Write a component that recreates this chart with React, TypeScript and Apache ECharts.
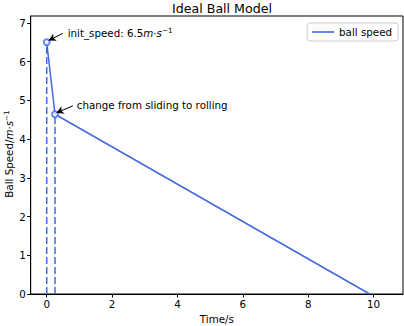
import React, { useEffect, useRef } from "react";
import * as echarts from "echarts";

const speedX = [0, 0.254, 9.88];
const speedY = [6.5, 4.643, 0];
const xTicks = [0, 2, 4, 6, 8, 10];
const yTicks = [0, 1, 2, 3, 4, 5, 6, 7];
const seriesName = "ball speed";
const yAxisTitle = "Ball Speed/{i|m}·{i|s}{sup|−1}";
const annotations = [
  { text: "init_speed: 6.5{i|m}·{i|s}{sup|−1}", at: [0.64, 6.74], tail: [0.49, 6.73], head: [0.06, 6.55] },
  { text: "change from sliding to rolling", at: [0.92, 4.87], tail: [0.8, 4.86], head: [0.3, 4.68] },
];

const COLOR = "#4169E1";
const FONT = "DejaVu Sans";
const FS = 10.3;

export default function App() {
  const ref = useRef<HTMLDivElement>(null);
  useEffect(() => {
    if (!ref.current) return;
    const chart = echarts.init(ref.current, undefined, { renderer: "svg" });
    const rich = {
      i: { fontStyle: "italic", fontFamily: FONT, fontSize: FS, color: "#000" },
      sup: { fontSize: 7.2, fontFamily: FONT, color: "#000", verticalAlign: "top", padding: [0, 0, 6, 0] },
    };
    chart.setOption({
      animation: false,
      color: [COLOR],
      textStyle: { fontFamily: FONT },
      title: {
        text: "Ideal Ball Model",
        left: 217,
        textAlign: "center",
        top: -3,
        textStyle: { fontFamily: FONT, fontSize: 12.6, fontWeight: "normal", color: "#000" },
      },
      legend: {
        data: [{ name: seriesName, icon: "rect" }],
        right: 6,
        top: 23,
        itemWidth: 22,
        itemHeight: 1.6,
        itemGap: 6,
        borderColor: "#ccc",
        borderWidth: 1,
        borderRadius: 3,
        padding: [4, 6, 4, 5],
        textStyle: { fontFamily: FONT, fontSize: FS, color: "#000" },
      },
      graphic: [
        {
          type: "text",
          x: 9,
          y: 154,
          rotation: Math.PI / 2,
          style: {
            text: yAxisTitle,
            fontFamily: FONT,
            fontSize: FS,
            fill: "#000",
            align: "center",
            verticalAlign: "middle",
            rich,
          },
        },
      ],
      grid: {
        left: 30.7,
        right: 1,
        top: 16,
        bottom: 32,
        outerBoundsMode: "none",
        containLabel: false,
        show: true,
        borderColor: "#000",
        borderWidth: 1,
        backgroundColor: "transparent",
      },
      xAxis: {
        type: "value",
        min: -0.49,
        max: 10.9,
        name: "Time/s",
        nameLocation: "middle",
        nameGap: 20,
        nameTextStyle: { fontFamily: FONT, fontSize: FS, color: "#000" },
        axisLine: { show: true, onZero: false, lineStyle: { color: "#000", width: 1 } },
        axisTick: { show: true, length: 3.5, lineStyle: { color: "#000" }, customValues: xTicks },
        axisLabel: { fontFamily: FONT, fontSize: FS, color: "#000", margin: 5, customValues: xTicks },
        splitLine: { show: false },
      },
      yAxis: {
        type: "value",
        min: 0,
        max: 7.18,
        axisLine: { show: true, onZero: false, lineStyle: { color: "#000", width: 1 } },
        axisTick: { show: true, length: 3.5, lineStyle: { color: "#000" }, customValues: yTicks },
        axisLabel: { fontFamily: FONT, fontSize: FS, color: "#000", margin: 5, customValues: yTicks },
        splitLine: { show: false },
      },
      series: [
        {
          name: seriesName,
          type: "line",
          symbol: "none",
          color: COLOR,
          lineStyle: { color: COLOR, width: 1.5 },
          itemStyle: { color: COLOR },
          data: speedX.map((x, i) => [x, speedY[i]]),
          z: 3,
        },
        {
          name: "markers",
          type: "scatter",
          symbol: "emptyCircle",
          symbolSize: 6,
          color: COLOR,
          itemStyle: { color: COLOR, borderColor: COLOR, borderWidth: 1 },
          data: speedX.slice(0, 2).map((x, i) => [x, speedY[i]]),
          z: 4,
        },
        ...speedX.slice(0, 2).map((x, i) => ({
          name: "guide" + i,
          type: "line",
          symbol: "none",
          color: COLOR,
          itemStyle: { color: COLOR },
          lineStyle: { color: COLOR, width: 1.5, type: [7, 3], opacity: 1 },
          data: [
            [x, 0],
            [x, speedY[i]],
          ],
          z: 2,
        })),
        {
          name: "annotations",
          type: "scatter",
          data: [],
          markPoint: {
            symbol: "circle",
            symbolSize: 0,
            label: {
              show: true,
              position: "right",
              distance: 0,
              fontFamily: FONT,
              fontSize: FS,
              color: "#000",
              rich,
              formatter: (p: any) => p.name,
            },
            data: annotations.map((a) => ({ name: a.text, coord: a.at })),
          },
          markLine: {
            silent: true,
            symbol: ["none", "arrow"],
            symbolSize: [6, 7],
            label: { show: false },
            lineStyle: { color: "#000", width: 1, type: "solid" },
            data: annotations.map((a) => [{ coord: a.tail }, { coord: a.head }]),
          },
        },
      ],
    });
    return () => chart.dispose();
  }, []);
  return <div ref={ref} style={{ width: 404, height: 326, position: "absolute", left: 0, top: 0 }} />;
}
